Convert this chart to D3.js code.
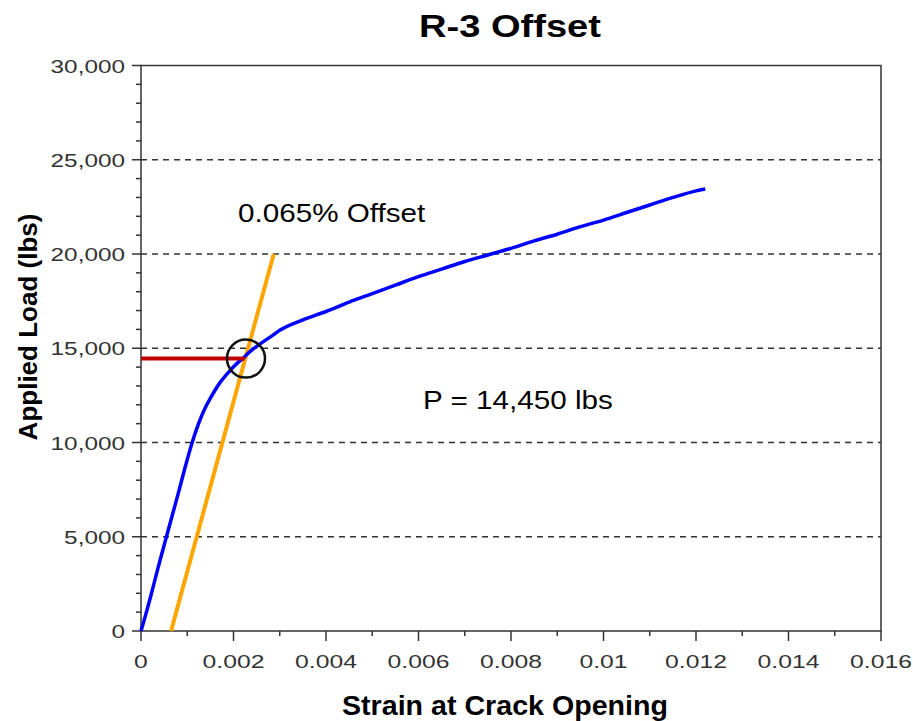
<!DOCTYPE html>
<html>
<head>
<meta charset="utf-8">
<script src="https://cdn.jsdelivr.net/npm/d3@7"></script>
<style>
  body { margin: 0; background: #fff; }
  text { font-family: "Liberation Sans", Arial, sans-serif; }
</style>
</head>
<body>
<svg id="chart" width="913" height="721"></svg>
<script>
var strain = [0, 0.0001, 0.0002, 0.0003, 0.0004, 0.00055, 0.0007, 0.0008, 0.00095, 0.0011,
  0.0012, 0.0013, 0.0014, 0.0015, 0.0017, 0.0019, 0.0021, 0.0022, 0.0023, 0.0025, 0.0028, 0.003,
  0.0035, 0.004, 0.0045, 0.005, 0.0055, 0.006, 0.0065, 0.007, 0.0075, 0.008,
  0.0085, 0.009, 0.0095, 0.01, 0.0105, 0.011, 0.0115, 0.012, 0.0122];
var load = [0, 850, 1750, 2700, 3650, 5000, 6350, 7250, 8650, 9950,
  10700, 11350, 11900, 12350, 13150, 13750, 14250, 14450, 14700, 15100, 15600, 15950,
  16500, 16950, 17450, 17900, 18350, 18800, 19200, 19600, 19950, 20300,
  20700, 21050, 21450, 21800, 22200, 22600, 23000, 23350, 23450];

// offset line
var offsetStrain = [0.00065, 0.00287];
var offsetLoad = [0, 20000];
var P = 14450, Pstrain = 0.00227;

var xTicks = [0, 0.002, 0.004, 0.006, 0.008, 0.01, 0.012, 0.014, 0.016];
var yTicks = [0, 5000, 10000, 15000, 20000, 25000, 30000];

var svg = d3.select('#chart');
var x = d3.scaleLinear().domain([0, 0.016]).range([141, 881]);
var y = d3.scaleLinear().domain([0, 30000]).range([631, 65.5]);

// text in the picture is a little wider than the font, stretch it
function stretch(sel, k) {
  sel.each(function(){
    var w = this.getComputedTextLength();
    d3.select(this).attr('textLength', w * k).attr('lengthAdjust', 'spacingAndGlyphs');
  });
}

// gridlines
svg.selectAll('.grid').data(yTicks.slice(1, 6)).enter().append('line')
  .attr('x1', x(0)).attr('x2', x(0.016))
  .attr('y1', function(d){ return y(d); }).attr('y2', function(d){ return y(d); })
  .attr('stroke', '#333').attr('stroke-width', 1.5).attr('stroke-dasharray', '6,5');

// frame
svg.append('rect').attr('x', x(0)).attr('y', y(30000))
  .attr('width', x(0.016) - x(0)).attr('height', y(0) - y(30000))
  .attr('fill', 'none').attr('stroke', '#333').attr('stroke-width', 1.5);

// ticks
var yMinor = d3.range(0, 30001, 1000);
svg.selectAll('.ytick').data(yMinor).enter().append('line')
  .attr('x1', function(d){ return x(0) - (d % 5000 == 0 ? 9 : 5); }).attr('x2', x(0))
  .attr('y1', function(d){ return y(d); }).attr('y2', function(d){ return y(d); })
  .attr('stroke', '#333').attr('stroke-width', 1.5);
var xMinor = d3.range(0, 17).map(function(i){ return i * 0.001; });
svg.selectAll('.xtick').data(xMinor).enter().append('line')
  .attr('x1', function(d){ return x(d); }).attr('x2', function(d){ return x(d); })
  .attr('y1', y(0)).attr('y2', function(d, i){ return y(0) + (i % 2 == 0 ? 10 : 5); })
  .attr('stroke', '#333').attr('stroke-width', 1.5);

svg.selectAll('.ylab').data(yTicks).enter().append('text')
  .attr('x', 125).attr('y', function(d){ return y(d) + 7; })
  .attr('text-anchor', 'end').attr('font-size', 19).attr('fill', '#333')
  .text(function(d){ return d3.format(',')(d); })
  .call(stretch, 1.28);
svg.selectAll('.xlab').data(xTicks).enter().append('text')
  .attr('x', function(d){ return x(d); }).attr('y', 668)
  .attr('text-anchor', 'middle').attr('font-size', 19).attr('fill', '#333')
  .text(function(d){ return String(d); })
  .call(stretch, 1.3);

// curve
var line = d3.line().x(function(d){ return x(d[0]); }).y(function(d){ return y(d[1]); });
svg.append('path').datum(d3.zip(offsetStrain, offsetLoad)).attr('d', line)
  .attr('fill', 'none').attr('stroke', '#ffa500').attr('stroke-width', 4);
svg.append('path').datum(d3.zip(strain, load)).attr('d', line.curve(d3.curveMonotoneX))
  .attr('fill', 'none').attr('stroke', '#0000ff').attr('stroke-width', 3.5)
  .attr('stroke-linejoin', 'round');
line.curve(d3.curveLinear);
svg.append('path').datum([[0, P], [Pstrain - 0.00003, P]]).attr('d', line)
  .attr('fill', 'none').attr('stroke', '#c00000').attr('stroke-width', 4);
svg.append('circle').attr('cx', x(Pstrain)).attr('cy', y(P)).attr('r', 19)
  .attr('fill', 'none').attr('stroke', '#111').attr('stroke-width', 2.5);

// text
svg.append('text').attr('x', 510).attr('y', 37).attr('text-anchor', 'middle')
  .attr('font-size', 32).attr('font-weight', 'bold').text('R-3 Offset')
  .call(stretch, 1.19);
svg.append('text').attr('x', 238).attr('y', 222).attr('font-size', 26)
  .text('0.065% Offset').call(stretch, 1.14);
svg.append('text').attr('x', 423).attr('y', 409).attr('font-size', 26)
  .text('P = 14,450 lbs').call(stretch, 1.14);
svg.append('text').attr('x', 505).attr('y', 715).attr('text-anchor', 'middle')
  .attr('font-size', 27).attr('font-weight', 'bold').text('Strain at Crack Opening')
  .call(stretch, 1.06);
svg.append('text').attr('transform', 'translate(37,327) rotate(-90)').attr('text-anchor', 'middle')
  .attr('font-size', 26).attr('font-weight', 'bold').text('Applied Load (lbs)');
</script>
</body>
</html>
